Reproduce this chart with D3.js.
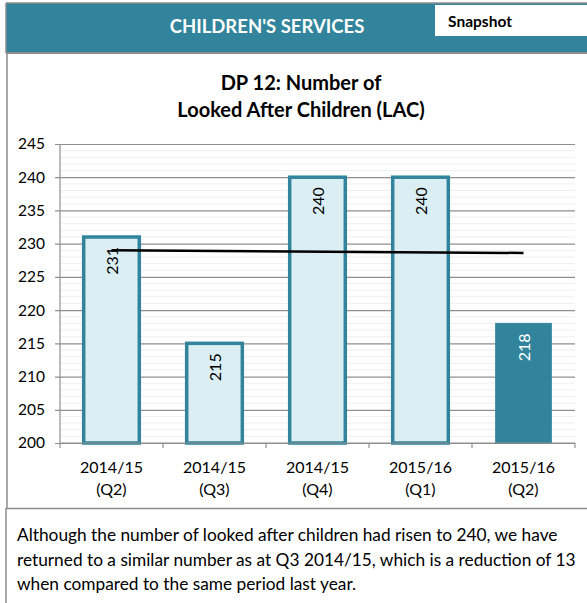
<!DOCTYPE html>
<html>
<head>
<meta charset="utf-8">
<script src="https://cdn.jsdelivr.net/npm/d3@7/dist/d3.min.js"></script>
<style>
  html, body { margin: 0; padding: 0; background: #fff; }
  svg { display: block; font-family: Lato, "Open Sans", sans-serif; }
</style>
</head>
<body>
<svg id="chart" width="587" height="603"></svg>
<script>
// Looked After Children per quarter
const quarters = ["2014/15 (Q2)", "2014/15 (Q3)", "2014/15 (Q4)", "2015/16 (Q1)", "2015/16 (Q2)"];
const lacCounts = [231, 215, 240, 240, 218];
const yTicks = [200, 205, 210, 215, 220, 225, 230, 235, 240, 245];
const commentary = [
  "Although the number of looked after children had risen to 240, we have",
  "returned to a similar number as at Q3 2014/15, which is a reduction of 13",
  "when compared to the same period last year."
];

const svg = d3.select("#chart");
const teal = "#31849b";
const lightFill = "#daeef3";
const frame = "#8c8c8c";

// Header band
svg.append("rect").attr("x", 6).attr("y", 3).attr("width", 581).attr("height", 50)
  .attr("fill", teal);
svg.append("line").attr("x1", 6).attr("x2", 587).attr("y1", 3).attr("y2", 3)
  .attr("stroke", frame).attr("stroke-width", 1.5);
svg.append("line").attr("x1", 6).attr("x2", 587).attr("y1", 53).attr("y2", 53)
  .attr("stroke", frame).attr("stroke-width", 2);
svg.append("line").attr("x1", 6).attr("x2", 6).attr("y1", 3).attr("y2", 53)
  .attr("stroke", frame).attr("stroke-width", 1.5);
svg.append("text").attr("x", 267).attr("y", 33).attr("text-anchor", "middle")
  .attr("fill", "#fff").attr("font-weight", "bold").attr("font-size", 18.5)
  .text("CHILDREN'S SERVICES");
svg.append("rect").attr("x", 435).attr("y", 5).attr("width", 152).attr("height", 31)
  .attr("fill", "#fff");
svg.append("text").attr("x", 480).attr("y", 27).attr("text-anchor", "middle")
  .attr("fill", "#000").attr("font-weight", "bold").attr("font-size", 15.5)
  .text("Snapshot");

// Panel borders
svg.append("line").attr("x1", 7).attr("x2", 7).attr("y1", 53).attr("y2", 508)
  .attr("stroke", frame).attr("stroke-width", 1.5);
svg.append("line").attr("x1", 6).attr("x2", 587).attr("y1", 508.5).attr("y2", 508.5)
  .attr("stroke", frame).attr("stroke-width", 1.5);
svg.append("line").attr("x1", 6).attr("x2", 6).attr("y1", 508).attr("y2", 603)
  .attr("stroke", frame).attr("stroke-width", 1.5);

// Chart title
const title = svg.append("text").attr("text-anchor", "middle").attr("font-weight", "bold")
  .attr("font-size", 20).attr("fill", "#000");
title.append("tspan").attr("x", 301).attr("y", 90).text("DP 12: Number of");
title.append("tspan").attr("x", 301).attr("y", 117).text("Looked After Children (LAC)");

// Scales
const y = d3.scaleLinear().domain([200, 245]).range([443, 144]);
const x = d3.scaleBand().domain(quarters).range([60, 575]).paddingInner(0.46).paddingOuter(0.23);
const step = x.step();

// Minor gridlines every unit
const minor = d3.range(201, 245).filter(v => v % 5 !== 0);
svg.append("g").selectAll("line").data(minor).join("line")
  .attr("x1", 60).attr("x2", 575)
  .attr("y1", d => y(d)).attr("y2", d => y(d))
  .attr("stroke", "#efefef").attr("stroke-width", 1);

// Major gridlines and y axis
const yAxis = svg.append("g").attr("transform", "translate(60,0)")
  .call(d3.axisLeft(y).tickValues(yTicks).tickSize(-515).tickSizeOuter(0).tickPadding(10));
yAxis.select(".domain").remove();
yAxis.selectAll(".tick line").attr("stroke", "#8f8f8f").attr("stroke-width", 1.2).attr("x1", -5);
yAxis.selectAll(".tick text").attr("font-family", "Lato, 'Open Sans', sans-serif")
  .attr("font-size", 15.5).attr("fill", "#000").attr("x", -15);
svg.append("line").attr("x1", 60).attr("x2", 60).attr("y1", y(245)).attr("y2", y(200))
  .attr("stroke", "#8f8f8f").attr("stroke-width", 1.2);

// Bars
const bars = quarters.map((q, i) => ({ q, v: lacCounts[i], last: i === quarters.length - 1 }));
svg.append("g").selectAll("rect").data(bars).join("rect")
  .attr("x", d => x(d.q))
  .attr("width", x.bandwidth())
  .attr("y", d => y(d.v))
  .attr("height", d => y(200) - y(d.v))
  .attr("fill", d => d.last ? teal : lightFill)
  .attr("stroke", teal)
  .attr("stroke-width", d => d.last ? 1 : 3.5);

// x axis line and category ticks
svg.append("line").attr("x1", 60).attr("x2", 575).attr("y1", y(200)).attr("y2", y(200))
  .attr("stroke", "#8f8f8f").attr("stroke-width", 1.2);
svg.append("g").selectAll("line").data(d3.range(quarters.length + 1)).join("line")
  .attr("x1", i => 60 + i * step).attr("x2", i => 60 + i * step)
  .attr("y1", y(200)).attr("y2", y(200) + 5)
  .attr("stroke", "#8f8f8f").attr("stroke-width", 1.2);

// Category labels on two lines
const catLabels = svg.append("g").selectAll("text").data(quarters).join("text")
  .attr("text-anchor", "middle").attr("font-size", 16).attr("fill", "#000");
catLabels.each(function (q) {
  const parts = q.split(" ");
  const cx = x(q) + x.bandwidth() / 2;
  d3.select(this).append("tspan").attr("x", cx).attr("y", 473).text(parts[0]);
  d3.select(this).append("tspan").attr("x", cx).attr("y", 495).text(parts[1]);
});

// Linear trend through the series
const n = lacCounts.length;
const mx = d3.mean(d3.range(n));
const my = d3.mean(lacCounts);
const slope = d3.sum(lacCounts, (v, i) => (i - mx) * (v - my)) / d3.sum(d3.range(n), i => (i - mx) ** 2);
const fit = i => my + slope * (i - mx);
svg.append("line")
  .attr("x1", x(quarters[0]) + x.bandwidth() / 2).attr("y1", y(fit(0)))
  .attr("x2", x(quarters[n - 1]) + x.bandwidth() / 2).attr("y2", y(fit(n - 1)))
  .attr("stroke", "#000").attr("stroke-width", 2.5);

// Value labels inside the bar tops
svg.append("g").selectAll("text").data(bars).join("text")
  .attr("transform", d => `translate(${x(d.q) + x.bandwidth() / 2 + 1},${y(d.v) + 10}) rotate(-90)`)
  .attr("text-anchor", "end").attr("dy", "0.35em")
  .attr("font-size", 16).attr("fill", d => d.last ? "#fff" : "#000")
  .text(d => d.v);

// Commentary
svg.append("g").selectAll("text").data(commentary).join("text")
  .attr("x", 17).attr("y", (d, i) => 541 + i * 24.5)
  .attr("font-size", 17.3).attr("fill", "#000")
  .text(d => d);
</script>
</body>
</html>
